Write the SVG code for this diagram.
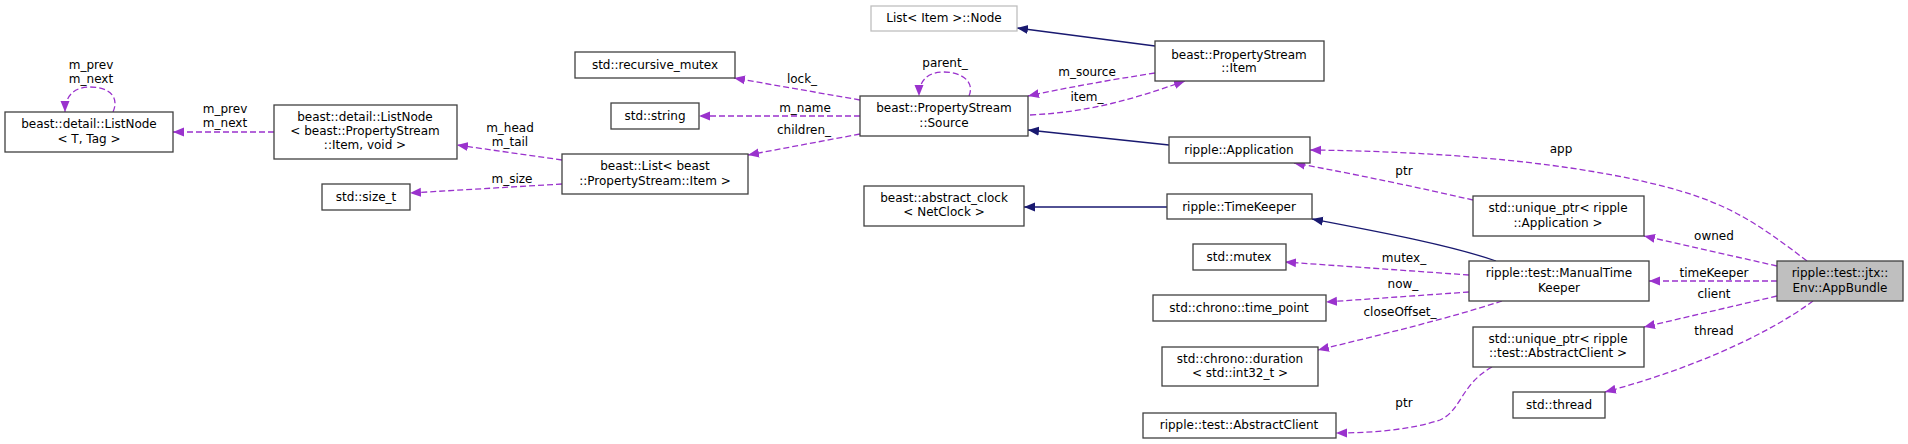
<svg xmlns="http://www.w3.org/2000/svg" width="1908" height="444" viewBox="0 0 1908 444">
<style>
text{font-family:"DejaVu Sans","Liberation Sans",sans-serif;font-size:12px;fill:#000;text-anchor:middle;dominant-baseline:central}
.n rect{fill:#fff;stroke:#404040;stroke-width:1.3}
.g rect{stroke:#bfbfbf}
.cur rect{fill:#bfbfbf}
.d{fill:none;stroke:#9a32cd;stroke-width:1.3;stroke-dasharray:6,3;marker-end:url(#ap)}
.s{fill:none;stroke:#191970;stroke-width:1.3;marker-end:url(#an)}
</style>
<defs>
<marker id="ap" markerUnits="userSpaceOnUse" markerWidth="12" markerHeight="10" refX="11" refY="5" orient="auto"><path d="M0,0.5 L11,5 L0,9.5 Z" fill="#9a32cd"/></marker>
<marker id="an" markerUnits="userSpaceOnUse" markerWidth="12" markerHeight="10" refX="11" refY="5" orient="auto"><path d="M0,0.5 L11,5 L0,9.5 Z" fill="#191970"/></marker>
</defs>
<rect width="1908" height="444" fill="#fff"/>
<g id="connectors">
<path class="d" d="M113,112 C120,96 108,87 90,87 C74,87 65,96 65,112"/>
<path class="d" d="M274,132 L173,132"/>
<path class="d" d="M562,160 L457,145"/>
<path class="d" d="M562,184 L410,193"/>
<path class="d" d="M860,100 L734,78"/>
<path class="d" d="M860,116 L699,116"/>
<path class="d" d="M860,134 L748,155"/>
<path class="d" d="M969,96 C975,82 962,72 944,72 C928,72 919,80 919,96"/>
<path class="d" d="M1155,73 C1110,80 1070,87 1028,96"/>
<path class="d" d="M1030,115 C1090,112 1130,100 1185,81"/>
<path class="s" d="M1155,46 L1017,28"/>
<path class="s" d="M1169,145 L1028,130"/>
<path class="s" d="M1167,207 L1024,207"/>
<path class="d" d="M1807,261 C1760,225 1730,205 1677,190 C1600,168 1480,152 1310,150"/>
<path class="d" d="M1473,200 C1420,188 1360,175 1294,163"/>
<path class="s" d="M1496,261 C1450,245 1380,232 1312,219"/>
<path class="d" d="M1469,275 L1285,262"/>
<path class="d" d="M1469,292 L1326,302"/>
<path class="d" d="M1502,301 C1450,318 1380,335 1318,350"/>
<path class="d" d="M1777,266 L1644,236"/>
<path class="d" d="M1777,281 L1649,281"/>
<path class="d" d="M1777,296 L1644,327"/>
<path class="d" d="M1813,301 C1760,340 1680,372 1605,392"/>
<path class="d" d="M1492,367 C1460,385 1462,410 1440,420 C1410,430 1370,433 1336,433"/>
<text x="91" y="65">m_prev</text><text x="91" y="79">m_next</text>
<text x="225" y="109">m_prev</text><text x="225" y="123">m_next</text>
<text x="510" y="128">m_head</text><text x="510" y="142">m_tail</text>
<text x="512" y="179">m_size</text>
<text x="802" y="79">lock_</text>
<text x="805" y="108">m_name</text>
<text x="804" y="130">children_</text>
<text x="945" y="63">parent_</text>
<text x="1087" y="72">m_source</text>
<text x="1087" y="97">item_</text>
<text x="1561" y="149">app</text>
<text x="1404" y="171">ptr</text>
<text x="1714" y="236">owned</text>
<text x="1404" y="258">mutex_</text>
<text x="1714" y="273">timeKeeper</text>
<text x="1403" y="284">now_</text>
<text x="1714" y="294">client</text>
<text x="1400" y="312">closeOffset_</text>
<text x="1714" y="331">thread</text>
<text x="1404" y="403">ptr</text>
</g>
<g id="listnodeT" class="n"><rect x="5" y="112" width="168" height="40"/><text x="89" y="124">beast::detail::ListNode</text><text x="89" y="139">&lt; T, Tag &gt;</text></g>
<g id="listnodePS" class="n"><rect x="274" y="105" width="183" height="54"/><text x="365" y="117">beast::detail::ListNode</text><text x="365" y="131">&lt; beast::PropertyStream</text><text x="365" y="145">::Item, void &gt;</text></g>
<g id="recmutex" class="n"><rect x="575" y="52" width="160" height="26"/><text x="655" y="65">std::recursive_mutex</text></g>
<g id="string" class="n"><rect x="611" y="103" width="88" height="26"/><text x="655" y="116">std::string</text></g>
<g id="listPS" class="n"><rect x="562" y="154" width="186" height="40"/><text x="655" y="166">beast::List&lt; beast</text><text x="655" y="181">::PropertyStream::Item &gt;</text></g>
<g id="sizet" class="n"><rect x="322" y="184" width="88" height="26"/><text x="366" y="197">std::size_t</text></g>
<g id="node" class="n g"><rect x="871" y="6" width="146" height="25"/><text x="944" y="18">List&lt; Item &gt;::Node</text></g>
<g id="source" class="n"><rect x="860" y="96" width="168" height="40"/><text x="944" y="108">beast::PropertyStream</text><text x="944" y="123">::Source</text></g>
<g id="psitem" class="n"><rect x="1155" y="41" width="169" height="40"/><text x="1239" y="55">beast::PropertyStream</text><text x="1239" y="68">::Item</text></g>
<g id="application" class="n"><rect x="1169" y="137" width="141" height="26"/><text x="1239" y="150">ripple::Application</text></g>
<g id="absclock" class="n"><rect x="864" y="186" width="160" height="40"/><text x="944" y="198">beast::abstract_clock</text><text x="944" y="212">&lt; NetClock &gt;</text></g>
<g id="timekeeper" class="n"><rect x="1167" y="194" width="145" height="25"/><text x="1239" y="207">ripple::TimeKeeper</text></g>
<g id="mutex" class="n"><rect x="1193" y="244" width="93" height="26"/><text x="1239" y="257">std::mutex</text></g>
<g id="timepoint" class="n"><rect x="1153" y="295" width="173" height="26"/><text x="1239" y="308">std::chrono::time_point</text></g>
<g id="duration" class="n"><rect x="1162" y="347" width="156" height="39"/><text x="1240" y="359">std::chrono::duration</text><text x="1240" y="373">&lt; std::int32_t &gt;</text></g>
<g id="abstractclient" class="n"><rect x="1143" y="413" width="193" height="25"/><text x="1239" y="425">ripple::test::AbstractClient</text></g>
<g id="uptrapp" class="n"><rect x="1473" y="196" width="171" height="40"/><text x="1558" y="208">std::unique_ptr&lt; ripple</text><text x="1558" y="223">::Application &gt;</text></g>
<g id="manualtk" class="n"><rect x="1469" y="261" width="180" height="40"/><text x="1559" y="273">ripple::test::ManualTime</text><text x="1559" y="288">Keeper</text></g>
<g id="uptrclient" class="n"><rect x="1473" y="327" width="171" height="40"/><text x="1558" y="339">std::unique_ptr&lt; ripple</text><text x="1558" y="353">::test::AbstractClient &gt;</text></g>
<g id="thread" class="n"><rect x="1513" y="392" width="92" height="26"/><text x="1559" y="405">std::thread</text></g>
<g id="appbundle" class="n cur"><rect x="1777" y="261" width="126" height="40"/><text x="1840" y="273">ripple::test::jtx::</text><text x="1840" y="288">Env::AppBundle</text></g>
</svg>
